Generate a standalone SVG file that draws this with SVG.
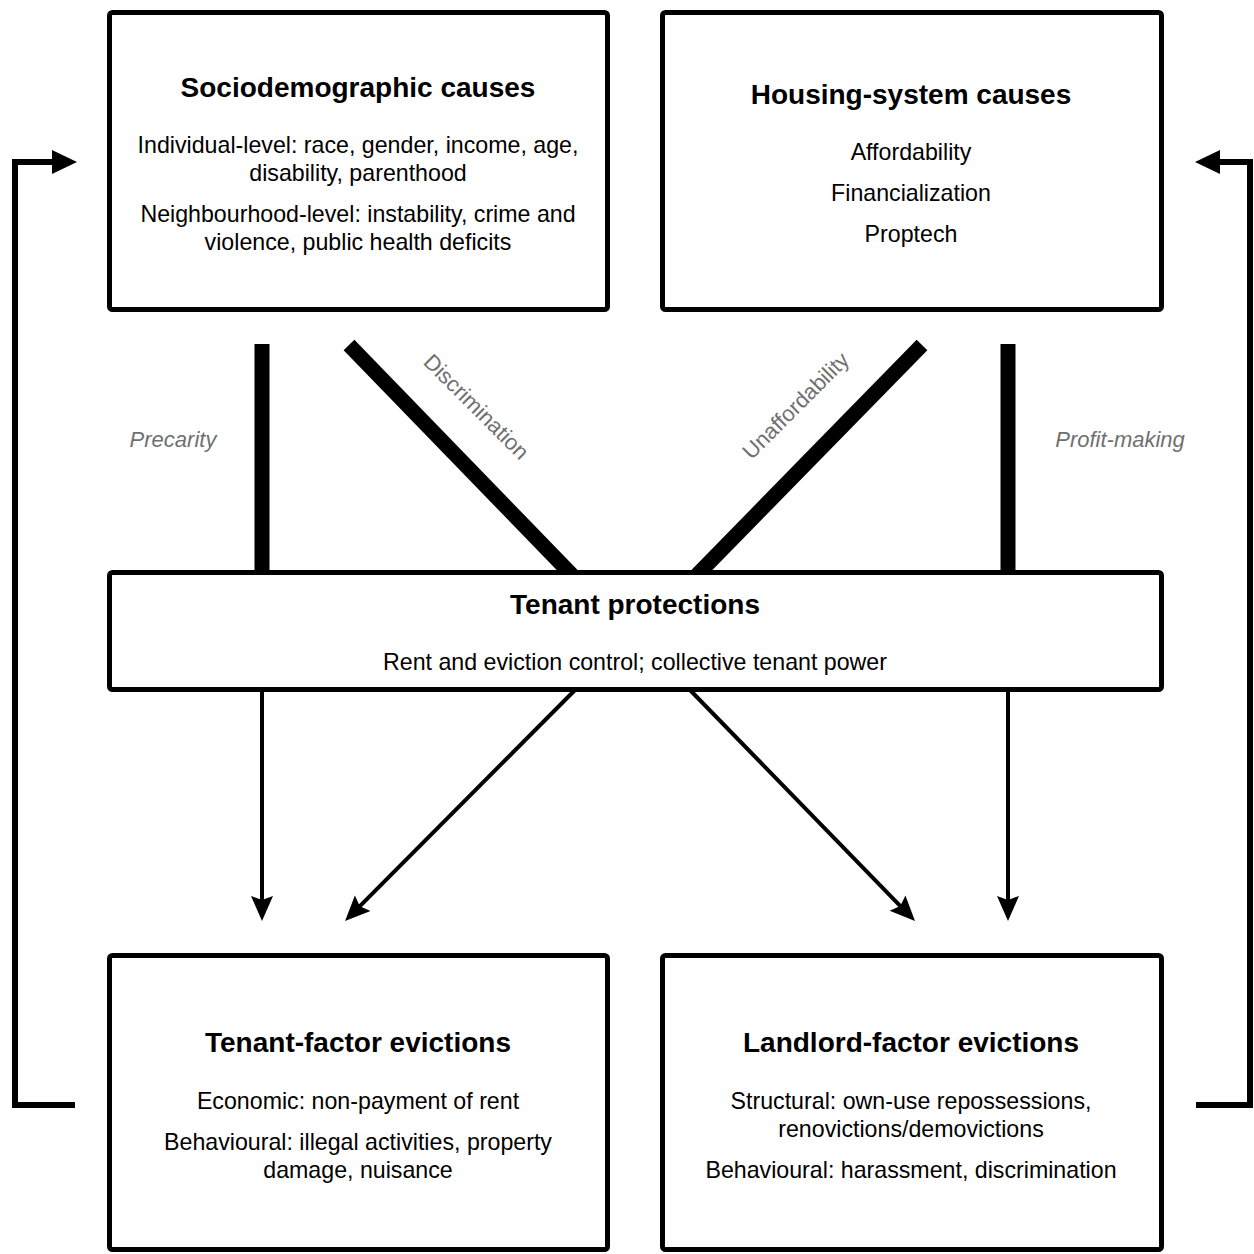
<svg xmlns="http://www.w3.org/2000/svg" width="1254" height="1254" viewBox="0 0 1254 1254">
<defs>
<style>
.box{fill:#fff;stroke:#000;stroke-width:5;stroke-linejoin:round}
.t{font-family:"Liberation Sans",Arial,sans-serif;font-size:28px;font-weight:bold;text-anchor:middle;fill:#000}
.b{font-family:"Liberation Sans",Arial,sans-serif;font-size:23.2px;text-anchor:middle;fill:#000}
.lab{font-family:"Liberation Sans",Arial,sans-serif;font-size:22px;fill:#707070;text-anchor:middle}
.thick{stroke:#000;stroke-width:15;fill:none}
.thin{stroke:#000;stroke-width:4;fill:none;marker-end:url(#ah)}
.fb{stroke:#000;stroke-width:6;fill:none;marker-end:url(#fh)}
</style>
<marker id="ah" markerUnits="userSpaceOnUse" viewBox="-20 -12 30 24" refX="0" refY="0" markerWidth="30" markerHeight="24" orient="auto" overflow="visible">
<path d="M8,0 L-17,-11 L-13,0 L-17,11 Z" fill="#000"/>
</marker>
<marker id="fh" markerUnits="userSpaceOnUse" viewBox="-2 -13 30 26" refX="0" refY="0" markerWidth="30" markerHeight="26" orient="auto" overflow="visible">
<path d="M25,0 L0,-12 L0,12 Z" fill="#000"/>
</marker>
</defs>
<rect width="1254" height="1254" fill="#fff"/>
<g id="connectors">
<line class="thick" x1="262" y1="344" x2="262" y2="575"/>
<line class="thick" x1="349" y1="345" x2="572" y2="575"/>
<line class="thick" x1="922" y1="345" x2="697" y2="575"/>
<line class="thick" x1="1008" y1="344" x2="1008" y2="575"/>
<line class="thin" x1="262" y1="690" x2="262" y2="913"/>
<line class="thin" x1="575" y1="690" x2="350.7" y2="915.4"/>
<line class="thin" x1="690" y1="690" x2="909.4" y2="915.3"/>
<line class="thin" x1="1008" y1="690" x2="1008" y2="913"/>
<path class="fb" d="M75,1105 H15 V162 H52"/>
<path class="fb" d="M1196,1105 H1250 V162 H1220"/>
<text class="lab" x="173" y="447" font-style="italic">Precarity</text>
<text class="lab" x="1120" y="447" font-style="italic">Profit-making</text>
<text class="lab" x="0" y="0" font-size="22.5" transform="translate(471,412) rotate(45)">Discrimination</text>
<text class="lab" x="0" y="0" font-size="23.5" transform="translate(801,411) rotate(-45)">Unaffordability</text>
</g>
<g id="sociodemographic">
<rect class="box" x="109.5" y="12.5" width="498" height="297" rx="3"/>
<text class="t" x="358" y="97">Sociodemographic causes</text>
<text class="b" x="358" y="153">Individual-level: race, gender, income, age,</text>
<text class="b" x="358" y="181">disability, parenthood</text>
<text class="b" x="358" y="222">Neighbourhood-level: instability, crime and</text>
<text class="b" x="358" y="250">violence, public health deficits</text>
</g>
<g id="housing">
<rect class="box" x="662.5" y="12.5" width="499" height="297" rx="3"/>
<text class="t" x="911" y="104">Housing-system causes</text>
<text class="b" x="911" y="160">Affordability</text>
<text class="b" x="911" y="201">Financialization</text>
<text class="b" x="911" y="242">Proptech</text>
</g>
<g id="tenant-protections">
<rect class="box" x="109.5" y="572.5" width="1052" height="117" rx="3"/>
<text class="t" x="635" y="614">Tenant protections</text>
<text class="b" x="635" y="670">Rent and eviction control; collective tenant power</text>
</g>
<g id="tenant-factor">
<rect class="box" x="109.5" y="955.5" width="498" height="294" rx="3"/>
<text class="t" x="358" y="1052">Tenant-factor evictions</text>
<text class="b" x="358" y="1109">Economic: non-payment of rent</text>
<text class="b" x="358" y="1150">Behavioural: illegal activities, property</text>
<text class="b" x="358" y="1178">damage, nuisance</text>
</g>
<g id="landlord-factor">
<rect class="box" x="662.5" y="955.5" width="499" height="294" rx="3"/>
<text class="t" x="911" y="1052">Landlord-factor evictions</text>
<text class="b" x="911" y="1109">Structural: own-use repossessions,</text>
<text class="b" x="911" y="1137">renovictions/demovictions</text>
<text class="b" x="911" y="1178">Behavioural: harassment, discrimination</text>
</g>
</svg>
